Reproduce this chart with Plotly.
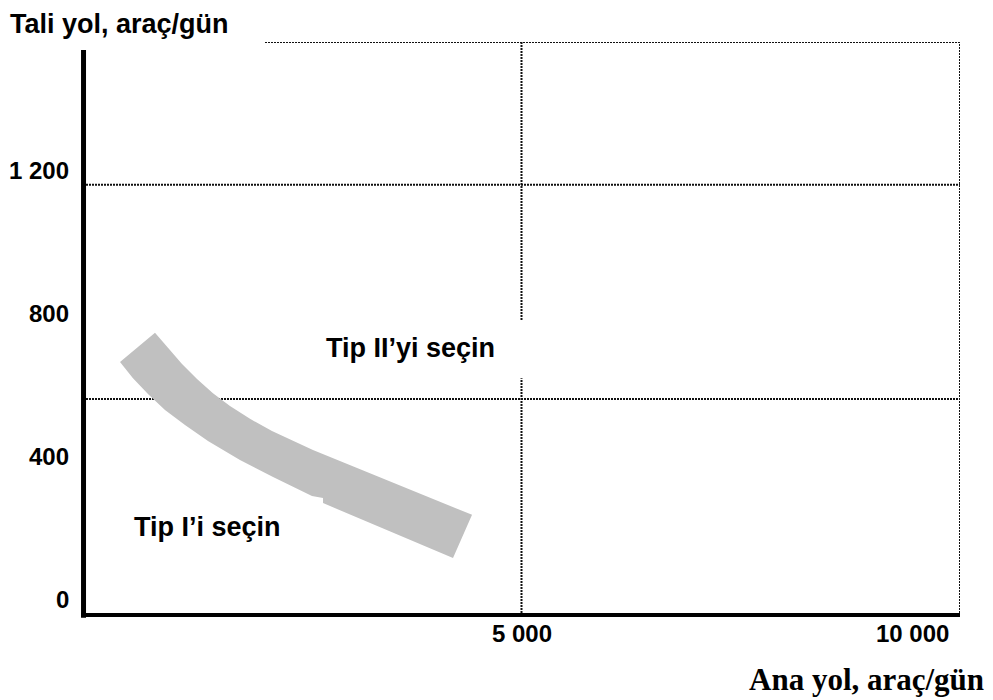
import plotly.graph_objects as go

# ---- data ----
x_tick_vals = [5000, 10000]
x_tick_text = ["5 000", "10 000"]
y_tick_vals = [0, 400, 800, 1200]
y_tick_text = ["0", "400", "800", "1 200"]
grid_y = [600, 1200]
grid_x = [5000, 10000]

# grey transition band (upper/right edge, then lower/left edge)
band_upper_x = [422, 821, 969, 1129, 1300, 1482, 1676, 1904, 2155, 2417, 2622, 4436]
band_upper_y = [703, 785, 743, 698, 656, 616, 580, 544, 510, 479, 457, 275]
band_lower_x = [4219, 2737, 2737, 2611, 2167, 1790, 1425, 1163, 935, 741, 570]
band_lower_y = [154, 308, 322, 328, 381, 429, 482, 527, 569, 614, 658]

region_labels = ["Tip II’yi seçin", "Tip I’i seçin"]
region_x = [3730, 1425]
region_y = [742, 241]

y_title = "Tali yol, araç/gün"
x_title = "Ana yol, araç/gün"

FONT = "Arial, Liberation Sans, sans-serif"
SERIF = "Times New Roman, Liberation Serif, serif"

fig = go.Figure()

fig.add_trace(go.Scatter(
    x=band_upper_x + band_lower_x + [band_upper_x[0]],
    y=band_upper_y + band_lower_y + [band_upper_y[0]],
    mode="lines", fill="toself", fillcolor="#c0c0c0",
    line=dict(width=0, color="#c0c0c0"), hoverinfo="skip", showlegend=False,
))

DOT = dict(color="#111111", width=2, dash="2px,1px")
shapes = []
for gy in grid_y:
    shapes.append(dict(type="line", xref="x", yref="y", x0=0, x1=10000, y0=gy, y1=gy,
                       line=DOT, layer="below"))
# top border (interrupted by title)
shapes.append(dict(type="line", xref="x", yref="y", x0=2075, x1=10000, y0=1600, y1=1600,
                   line=DOT, layer="below"))
# vertical at 5000 with gap behind label
shapes.append(dict(type="line", xref="x", yref="y", x0=5000, x1=5000, y0=0, y1=658,
                   line=DOT, layer="below"))
shapes.append(dict(type="line", xref="x", yref="y", x0=5000, x1=5000, y0=821, y1=1600,
                   line=DOT, layer="below"))
shapes.append(dict(type="line", xref="x", yref="y", x0=10000, x1=10000, y0=0, y1=1600,
                   line=DOT, layer="below"))
# axis lines (paper refs so they are not clipped)
shapes.append(dict(type="line", xref="paper", yref="paper", x0=0.0006, x1=0.0006,
                   y0=-0.0085, y1=0.986, line=dict(color="black", width=5), layer="above"))
shapes.append(dict(type="line", xref="paper", yref="paper", x0=-0.002, x1=1.0,
                   y0=-0.0035, y1=-0.0035, line=dict(color="black", width=4), layer="above"))

annotations = []
for v, t in zip(y_tick_vals, y_tick_text):
    annotations.append(dict(x=0, y=v, xref="x", yref="y", text="<b>%s</b>" % t, showarrow=False,
                            xanchor="right", yanchor="middle", xshift=-12, yshift=14,
                            font=dict(family=FONT, size=24, color="black")))
for v, t in zip(x_tick_vals, x_tick_text):
    shift = 0 if v < 10000 else -48
    annotations.append(dict(x=v, y=0, xref="x", yref="y", text="<b>%s</b>" % t, showarrow=False,
                            xanchor="center", yanchor="middle", xshift=shift, yshift=-20,
                            font=dict(family=FONT, size=24, color="black")))
for t, x, y in zip(region_labels, region_x, region_y):
    annotations.append(dict(x=x, y=y, xref="x", yref="y", text="<b>%s</b>" % t, showarrow=False,
                            xanchor="center", yanchor="middle",
                            font=dict(family=FONT, size=27, color="black")))
annotations.append(dict(x=-0.085, y=1.031, xref="paper", yref="paper", text="<b>%s</b>" % y_title,
                        showarrow=False, xanchor="left", yanchor="middle",
                        font=dict(family=FONT, size=27, color="black")))
annotations.append(dict(x=1.03, y=-0.117, xref="paper", yref="paper", text="<b>%s</b>" % x_title,
                        showarrow=False, xanchor="right", yanchor="middle",
                        font=dict(family=SERIF, size=31, color="black")))

fig.update_layout(
    width=993, height=700,
    margin=dict(l=83, r=33, t=42, b=87),
    paper_bgcolor="white", plot_bgcolor="white",
    xaxis=dict(range=[0, 10000], showgrid=False, zeroline=False, showline=False,
               showticklabels=False, ticks=""),
    yaxis=dict(range=[0, 1600], showgrid=False, zeroline=False, showline=False,
               showticklabels=False, ticks=""),
    shapes=shapes, annotations=annotations, showlegend=False,
)

fig.write_html("out.html", config={"displayModeBar": False},
               post_script="document.body.style.margin='0';document.body.style.overflow='hidden';")
